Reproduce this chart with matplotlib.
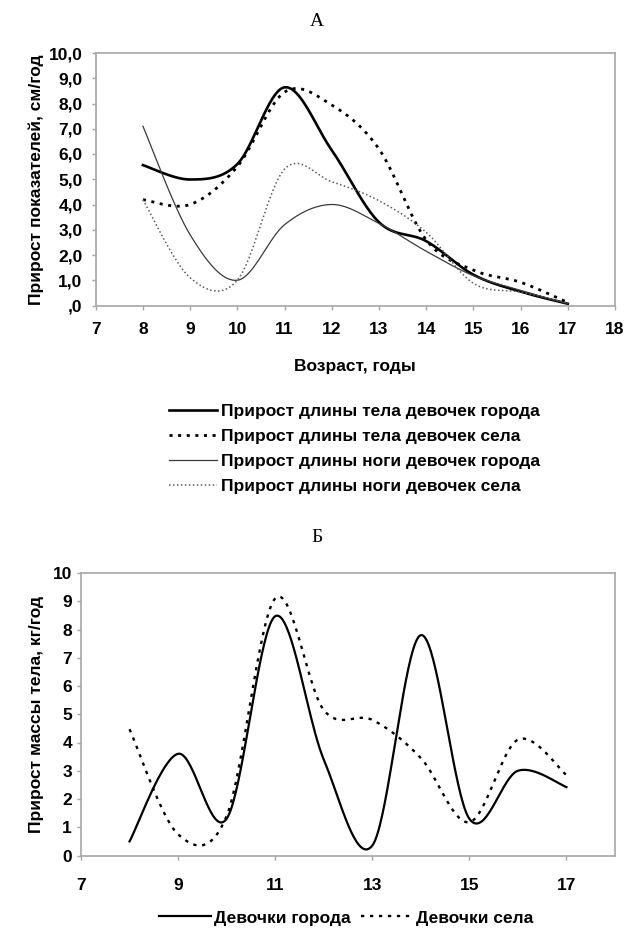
import numpy as np
import matplotlib
matplotlib.use("Agg")
import matplotlib.pyplot as plt

plt.rcParams['font.family'] = ['Liberation Sans', 'DejaVu Sans']

# ---------------- data ----------------
ages = [8, 9, 10, 11, 12, 13, 14, 15, 16, 17]

# Panel A: growth increments, cm/year
body_city = [5.56, 4.99, 5.6, 8.64, 6.15, 3.3, 2.55, 1.22, 0.55, 0.07]
body_village = [4.19, 4.0, 5.5, 8.45, 7.94, 6.2, 2.6, 1.4, 0.92, 0.12]
leg_city = [7.1, 2.8, 1.0, 3.2, 4.0, 3.25, 2.15, 1.18, 0.6, 0.07]
leg_village = [4.19, 1.1, 1.0, 5.4, 4.9, 4.15, 2.9, 0.88, 0.53, 0.1]

labels_a = ["Прирост длины тела девочек города",
            "Прирост длины тела девочек села",
            "Прирост длины ноги девочек города",
            "Прирост длины ноги девочек села"]
yticklabels_a = [",0", "1,0", "2,0", "3,0", "4,0", "5,0", "6,0", "7,0", "8,0", "9,0", "10,0"]
xticks_a = [7, 8, 9, 10, 11, 12, 13, 14, 15, 16, 17, 18]

# Panel B: body-mass increments, kg/year
mass_city = [0.5, 3.6, 1.3, 8.47, 3.4, 0.35, 7.8, 1.3, 3.0, 2.42]
mass_village = [4.47, 0.75, 1.4, 9.1, 5.15, 4.8, 3.45, 1.18, 4.1, 2.85]
labels_b = ["Девочки города", "Девочки села"]
yticks_b = [0, 1, 2, 3, 4, 5, 6, 7, 8, 9, 10]
xticks_b = [7, 9, 11, 13, 15, 17]


def smooth(x, y, n=40):
    """Excel-like smoothed line (Catmull-Rom / cubic Bezier)."""
    P = np.column_stack([x, y]).astype(float)
    P = np.vstack([P[0], P, P[-1]])
    out = []
    t = np.linspace(0, 1, n)[:, None]
    for i in range(1, len(P) - 2):
        p0, p1, p2, p3 = P[i - 1], P[i], P[i + 1], P[i + 2]
        c1 = p1 + (p2 - p0) / 6.0
        c2 = p2 - (p3 - p1) / 6.0
        seg = ((1 - t) ** 3) * p1 + 3 * ((1 - t) ** 2) * t * c1 + 3 * (1 - t) * t ** 2 * c2 + t ** 3 * p2
        out.append(seg if i == 1 else seg[1:])
    S = np.vstack(out)
    return S[:, 0], S[:, 1]


W, H = 635, 936
fig = plt.figure(figsize=(W / 100, H / 100), dpi=100)

GRAY = "#a6a6a6"
FS = 12.5


def style_axes(ax):
    for s in ax.spines.values():
        s.set_color(GRAY)
        s.set_linewidth(1.2)
    ax.tick_params(axis='both', colors=GRAY, length=3, width=1, direction='out',
                   labelcolor='black', labelsize=FS)
    for lab in ax.get_xticklabels() + ax.get_yticklabels():
        lab.set_fontweight('bold')


# ---------------- Panel A ----------------
axA = fig.add_axes([95.7 / W, 1 - 305.5 / H, (615 - 95.7) / W, (305.5 - 53) / H])
styles_a = [dict(color='black', lw=1.9, ls='-'),
            dict(color='black', lw=2.0, ls=(0, (1.1, 2.0))),
            dict(color='#3a3a3a', lw=0.9, ls='-'),
            dict(color='#5a5a5a', lw=1.1, ls=(0, (1.0, 1.6)))]
handles = []
for ser, st, lab in zip([body_city, body_village, leg_city, leg_village], styles_a, labels_a):
    xs, ys = smooth(ages, ser)
    ln, = axA.plot(xs, ys, label=lab, **st)
    handles.append(ln)
axA.set_xlim(7, 18)
axA.set_ylim(0, 10)
axA.set_xticks(xticks_a)
axA.set_yticks(range(0, 11))
axA.set_yticklabels(yticklabels_a)
style_axes(axA)
axA.tick_params(axis='x', pad=9)
axA.tick_params(axis='y', pad=6.5)
axA.set_xlabel("Возраст, годы", fontsize=FS, fontweight='bold', labelpad=16)
axA.set_ylabel("Прирост показателей, см/год", fontsize=FS, fontweight='bold', labelpad=3)
fig.text(317 / W, 1 - 22 / H, "А", family='Liberation Serif', fontsize=14, ha='center', va='center')

fig.legend(handles=handles, labels=labels_a, loc='upper left',
           bbox_to_anchor=(160 / W, 1 - 395 / H), frameon=False,
           prop=dict(weight='bold', size=FS), handlelength=2.8, handletextpad=0.2,
           labelspacing=0.58, borderpad=0)

# ---------------- Panel B ----------------
fig.text(317 / W, 1 - 537 / H, "Б", family='Liberation Serif', fontsize=14, ha='center', va='center')
axB = fig.add_axes([81 / W, 1 - 855.5 / H, (615 - 81) / W, (855.5 - 573) / H])
hb = []
for ser, st, lab in zip([mass_city, mass_village],
                        [dict(color='black', lw=1.6, ls='-'),
                         dict(color='black', lw=1.7, ls=(0, (1.4, 2.4)))], labels_b):
    xs, ys = smooth(ages, ser)
    ln, = axB.plot(xs, ys, label=lab, **st)
    hb.append(ln)
axB.set_xlim(7, 18)
axB.set_ylim(0, 10)
axB.set_xticks(xticks_b)
axB.set_yticks(yticks_b)
style_axes(axB)
axB.tick_params(axis='x', pad=13)
axB.set_ylabel("Прирост массы тела, кг/год", fontsize=FS, fontweight='bold', labelpad=6)

fig.legend(handles=hb, labels=labels_b, loc='center', ncol=2,
           bbox_to_anchor=(346 / W, 1 - 918 / H), frameon=False,
           prop=dict(weight='bold', size=FS), handlelength=3.0, handletextpad=0.15,
           columnspacing=0.6, borderpad=0)

fig.savefig("out.png", dpi=100)
